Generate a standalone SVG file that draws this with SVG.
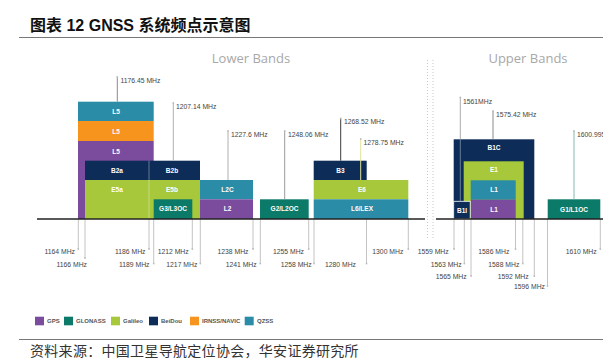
<svg xmlns="http://www.w3.org/2000/svg" width="603" height="359" viewBox="0 0 603 359">
<style>
.gps{fill:#7b4c9e}.glo{fill:#0c7a69}.gal{fill:#a6c83a}.bds{fill:#0d2d58}.irn{fill:#f7941e}.qzs{fill:#2a8ca7}
.bl{font-family:"Liberation Sans",Arial,sans-serif;font-size:6.5px;font-weight:bold;fill:#fff;text-anchor:middle;dominant-baseline:central}
.fq{font-family:"Liberation Sans",Arial,sans-serif;font-size:6.8px;fill:#444;dominant-baseline:central}
.fr{text-anchor:end}
.tk{stroke:#c4c4c4;stroke-width:1;fill:none}
.dot{fill:#bbb}
.lg{font-family:"Liberation Sans",Arial,sans-serif;font-size:6px;font-weight:bold;fill:#555;dominant-baseline:central}
.band{font-family:"Open Sans","Liberation Sans",sans-serif;font-size:13px;fill:#a8a8a8;text-anchor:middle}
</style>
<rect width="603" height="359" fill="#fff"/>
<text x="30" y="30.5" font-family="'Liberation Sans','Noto Sans CJK SC',sans-serif" font-size="16" font-weight="bold" fill="#111">图表 12 GNSS 系统频点示意图</text>
<line x1="19" y1="37.5" x2="603" y2="37.5" stroke="#777" stroke-width="1.2"/>
<text class="band" x="251" y="63">Lower Bands</text>
<text class="band" x="528" y="63">Upper Bands</text>
<g id="separator" stroke="#c8c8c8" stroke-width="1" stroke-dasharray="1,2">
<line x1="427.5" y1="60" x2="427.5" y2="240"/>
<line x1="433" y1="60" x2="433" y2="240"/>
</g>
<g id="l5-qzss"><rect class="qzs" x="78" y="101.7" width="75.7" height="19.3"/><text class="bl" x="116" y="111">L5</text></g>
<g id="l5-irnss"><rect class="irn" x="78" y="121" width="75.7" height="20"/><text class="bl" x="116" y="131">L5</text></g>
<g id="l5-gps"><rect class="gps" x="78" y="141" width="75.7" height="78"/><text class="bl" x="116" y="151.5">L5</text></g>
<g id="b2a"><rect class="bds" x="85" y="160.7" width="64" height="19.3"/><text class="bl" x="117" y="170.5">B2a</text></g>
<g id="b2b"><rect class="bds" x="149" y="160.7" width="51" height="19.3"/><text class="bl" x="172" y="170.5">B2b</text></g>
<g id="e5a"><rect class="gal" x="85" y="180" width="64" height="39"/><text class="bl" x="117" y="189.5">E5a</text></g>
<g id="e5b"><rect class="gal" x="149" y="180" width="51" height="39"/><text class="bl" x="172" y="189.5">E5b</text></g>
<line x1="149" y1="160.7" x2="149" y2="219" stroke="#fff" stroke-width="0.6" stroke-opacity="0.6"/>
<g id="g3"><rect class="glo" x="153.7" y="199.3" width="38.6" height="19.7"/><text class="bl" x="173" y="208.7">G3/L3OC</text></g>
<g id="l2c"><rect class="qzs" x="200" y="180" width="53" height="19.3"/><text class="bl" x="227.5" y="189.3">L2C</text></g>
<g id="l2"><rect class="gps" x="200" y="199.3" width="53" height="19.7"/><text class="bl" x="227.5" y="208.7">L2</text></g>
<g id="g2"><rect class="glo" x="260" y="199.3" width="48.7" height="19.7"/><text class="bl" x="284.5" y="208.7">G2/L2OC</text></g>
<g id="b3"><rect class="bds" x="313.7" y="160.7" width="53" height="19.3"/><text class="bl" x="340.5" y="170.5">B3</text></g>
<g id="e6"><rect class="gal" x="313.7" y="180" width="94.6" height="19.3"/><text class="bl" x="362" y="189.3">E6</text></g>
<g id="l6"><rect class="qzs" x="313.7" y="199.3" width="94.6" height="19.7"/><text class="bl" x="362" y="208.7">L6/LEX</text></g>
<g id="b1c"><rect class="bds" x="453.7" y="139.3" width="80.6" height="79.7"/><text class="bl" x="494" y="147.5">B1C</text></g>
<g id="e1"><rect class="gal" x="463.7" y="161.3" width="60" height="57.7"/><text class="bl" x="494" y="169.5">E1</text></g>
<g id="l1-qzss"><rect class="qzs" x="470.7" y="180.3" width="45" height="19.4"/><text class="bl" x="494" y="189.5">L1</text></g>
<g id="l1-gps"><rect class="gps" x="470.7" y="199.7" width="45" height="19.3"/><text class="bl" x="494" y="209">L1</text></g>
<g id="b1i"><rect class="bds" x="453.7" y="201.3" width="16.5" height="17.7" stroke="#fff" stroke-width="0.8"/><text class="bl" x="462" y="210">B1I</text></g>
<g id="g1"><rect class="glo" x="547.7" y="199.3" width="52.6" height="19.7"/><text class="bl" x="574" y="209">G1/L1OC</text></g>
<g id="connectors">
<g stroke-width="1" fill="none">
<line x1="117.3" y1="77" x2="117.3" y2="101.7" stroke="#8a8a8a"/>
<line x1="173.3" y1="103" x2="173.3" y2="160.7" stroke="#b0b0b0"/>
<line x1="228" y1="131" x2="228" y2="180" stroke="#b0b0b0"/>
<line x1="284.7" y1="131" x2="284.7" y2="199.3" stroke="#9a9a9a"/>
<line x1="340.7" y1="118.5" x2="340.7" y2="160.7" stroke="#3a3a3a"/>
<line x1="360.7" y1="139" x2="360.7" y2="180" stroke="#dfe49a"/>
<line x1="460.3" y1="97.5" x2="460.3" y2="139.3" stroke="#aaa"/>
<line x1="460.3" y1="139.3" x2="460.3" y2="201.3" stroke="#8aa0b8" stroke-width="0.7"/>
<line x1="493" y1="111" x2="493" y2="139.3" stroke="#8a8a8a"/>
<line x1="574" y1="131" x2="574" y2="199.3" stroke="#86b8ae"/>
</g>
<g class="dot">
<circle cx="117.3" cy="77" r="0.9"/><circle cx="173.3" cy="103" r="0.9"/><circle cx="228" cy="131" r="0.9"/><circle cx="284.7" cy="131" r="0.9"/><circle cx="340.7" cy="118.5" r="0.9"/><circle cx="360.7" cy="139" r="0.9"/><circle cx="460.3" cy="97.5" r="0.9"/><circle cx="493" cy="111" r="0.9"/><circle cx="574" cy="131" r="0.9"/>
</g>
<g class="tk">
<line x1="78.3" y1="219" x2="78.3" y2="249"/>
<line x1="85" y1="219" x2="85" y2="258"/>
<line x1="149" y1="219" x2="149" y2="249"/>
<line x1="153.7" y1="219" x2="153.7" y2="263"/>
<line x1="192.3" y1="219" x2="192.3" y2="249"/>
<line x1="200.3" y1="219" x2="200.3" y2="263"/>
<line x1="253" y1="219" x2="253" y2="249"/>
<line x1="260.3" y1="219" x2="260.3" y2="263"/>
<line x1="308.7" y1="219" x2="308.7" y2="249"/>
<line x1="314" y1="219" x2="314" y2="263"/>
<line x1="366.5" y1="219" x2="366.5" y2="263"/>
<line x1="408.3" y1="219" x2="408.3" y2="249"/>
<line x1="454" y1="219" x2="454" y2="249"/>
<line x1="464.3" y1="219" x2="464.3" y2="263"/>
<line x1="471" y1="219" x2="471" y2="276"/>
<line x1="515.5" y1="219" x2="515.5" y2="249"/>
<line x1="522.8" y1="219" x2="522.8" y2="263"/>
<line x1="534.3" y1="219" x2="534.3" y2="276"/>
<line x1="547.5" y1="219" x2="547.5" y2="286"/>
<line x1="600.3" y1="219" x2="600.3" y2="249"/>
</g>
<g class="dot">
<circle cx="78.3" cy="249" r="0.9"/><circle cx="85" cy="258" r="0.9"/><circle cx="149" cy="249" r="0.9"/><circle cx="153.7" cy="263.5" r="0.9"/><circle cx="192.3" cy="249" r="0.9"/><circle cx="200.3" cy="263.5" r="0.9"/><circle cx="253" cy="249" r="0.9"/><circle cx="260.3" cy="263.5" r="0.9"/><circle cx="308.7" cy="249" r="0.9"/><circle cx="314" cy="263.5" r="0.9"/><circle cx="366.5" cy="263.5" r="0.9"/><circle cx="408.3" cy="249" r="0.9"/><circle cx="454" cy="249" r="0.9"/><circle cx="464.3" cy="263.5" r="0.9"/><circle cx="471" cy="276" r="0.9"/><circle cx="515.5" cy="249" r="0.9"/><circle cx="522.8" cy="263.5" r="0.9"/><circle cx="534.3" cy="276" r="0.9"/><circle cx="547.5" cy="286" r="0.9"/><circle cx="600.3" cy="249" r="0.9"/>
</g>
</g>
<g id="axis" stroke="#222" stroke-width="1.3">
<line x1="37" y1="219" x2="425" y2="219"/>
<line x1="436" y1="219" x2="603" y2="219"/>
</g>
<g id="top-labels">
<text class="fq" x="120.5" y="80.5">1176.45 MHz</text>
<text class="fq" x="176" y="106.5">1207.14 MHz</text>
<text class="fq" x="231" y="134">1227.6 MHz</text>
<text class="fq" x="288" y="134">1248.06 MHz</text>
<text class="fq" x="344" y="121.5">1268.52 MHz</text>
<text class="fq" x="363.5" y="142">1278.75 MHz</text>
<text class="fq" x="463" y="101">1561MHz</text>
<text class="fq" x="496" y="114.5">1575.42 MHz</text>
<text class="fq" x="577" y="134">1600.995 MHz</text>
</g>
<g id="bottom-labels">
<text class="fq fr" x="75" y="251.7">1164 MHz</text>
<text class="fq fr" x="87" y="264.3">1166 MHz</text>
<text class="fq fr" x="145.5" y="251.7">1186 MHz</text>
<text class="fq fr" x="149.5" y="264.3">1189 MHz</text>
<text class="fq fr" x="188.7" y="251.7">1212 MHz</text>
<text class="fq fr" x="197.3" y="264.3">1217 MHz</text>
<text class="fq fr" x="248.5" y="251.7">1238 MHz</text>
<text class="fq fr" x="256.7" y="264.3">1241 MHz</text>
<text class="fq fr" x="304" y="251.7">1255 MHz</text>
<text class="fq fr" x="311.7" y="264.3">1258 MHz</text>
<text class="fq fr" x="356" y="264.3">1280 MHz</text>
<text class="fq fr" x="403.3" y="251.7">1300 MHz</text>
<text class="fq fr" x="448.7" y="251.7">1559 MHz</text>
<text class="fq fr" x="461.7" y="264.3">1563 MHz</text>
<text class="fq fr" x="466.7" y="276.7">1565 MHz</text>
<text class="fq fr" x="509.3" y="251.7">1586 MHz</text>
<text class="fq fr" x="519.3" y="264.3">1588 MHz</text>
<text class="fq fr" x="528.7" y="276.7">1592 MHz</text>
<text class="fq fr" x="545" y="286">1596 MHz</text>
<text class="fq fr" x="596.7" y="251.7">1610 MHz</text>
</g>
<g id="legend">
<rect class="gps" x="35" y="316.7" width="9" height="8.6"/><text class="lg" x="47" y="321">GPS</text>
<rect class="glo" x="64" y="316.7" width="9" height="8.6"/><text class="lg" x="76" y="321">GLONASS</text>
<rect class="gal" x="111" y="316.7" width="9" height="8.6"/><text class="lg" x="123" y="321">Galileo</text>
<rect class="bds" x="149" y="316.7" width="9" height="8.6"/><text class="lg" x="161" y="321">BeiDou</text>
<rect class="irn" x="190" y="316.7" width="9" height="8.6"/><text class="lg" x="202" y="321">IRNSS/NAVIC</text>
<rect class="qzs" x="244.7" y="316.7" width="9" height="8.6"/><text class="lg" x="257" y="321">QZSS</text>
</g>
<line x1="19" y1="339.5" x2="603" y2="339.5" stroke="#777" stroke-width="1.2"/>
<text x="30" y="356" font-family="'Noto Sans CJK SC',sans-serif" font-size="14" letter-spacing="0.3" fill="#333">资料来源：中国卫星导航定位协会，华安证券研究所</text>
</svg>
